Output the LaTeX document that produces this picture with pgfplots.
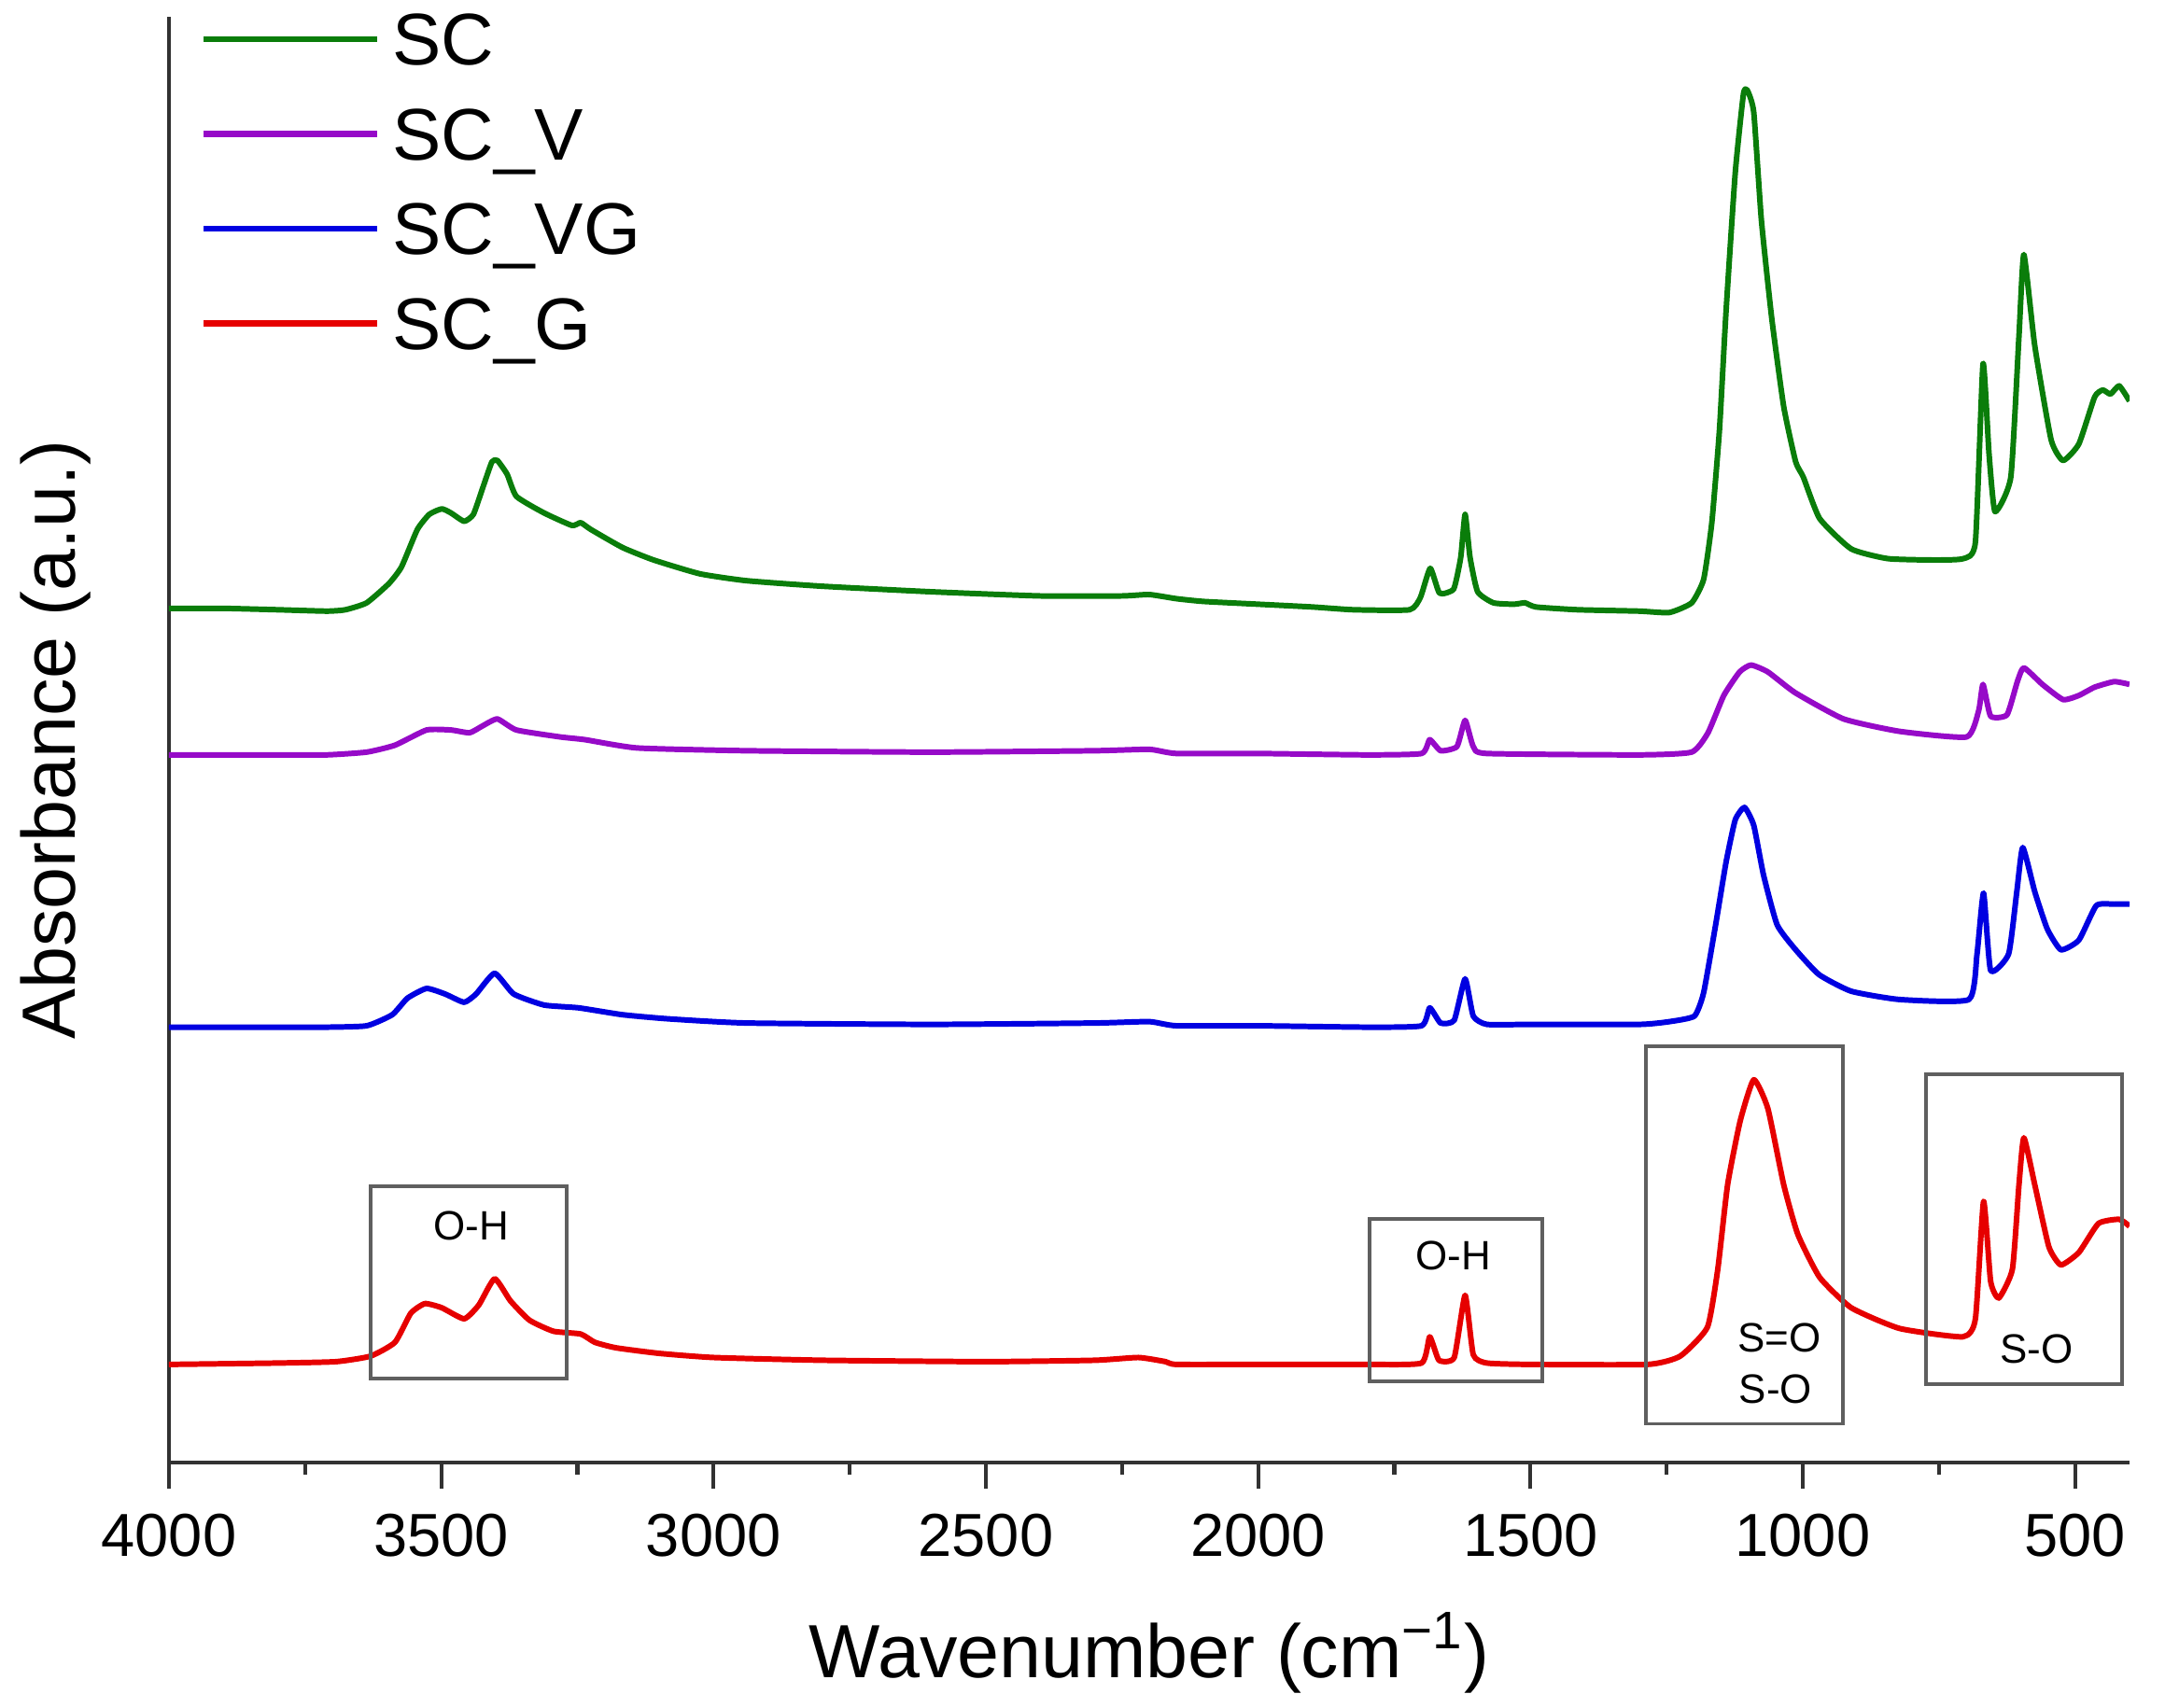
\documentclass[border=0pt]{standalone}
\usepackage{pgfplots}
\pgfplotsset{compat=1.18}
\usepackage{fontspec}
\setmainfont{Liberation Sans}
\definecolor{cgreen}{RGB}{10,125,10}
\definecolor{cpurple}{RGB}{150,10,200}
\definecolor{cblue}{RGB}{0,0,225}
\definecolor{cred}{RGB}{230,0,0}
\definecolor{boxgray}{RGB}{95,95,95}
\definecolor{axgray}{RGB}{50,50,50}
\begin{document}
\begin{tikzpicture}
\begin{axis}[
  at={(0,0)}, anchor=south west,
  scale only axis, width=21cm, height=15.49cm,
  x dir=reverse, xmin=400, xmax=4000, ymin=0, ymax=1046,
  axis x line*=bottom, axis y line*=left,
  axis line style={axgray, line width=1.4pt},
  xtick={4000,3500,3000,2500,2000,1500,1000,500},
  minor x tick num=1,
  ytick=\empty,
  tick align=outside,
  major tick length=0.28cm, minor tick length=0.13cm,
  tick style={axgray, line width=1.2pt},
  /pgf/number format/assume math mode=true,
  /pgf/number format/set thousands separator={},
  xticklabel style={font=\fontsize{18.5}{22}\selectfont, yshift=-0.15cm},
  xlabel={Wavenumber (cm\textsuperscript{−1})},
  xlabel style={font=\fontsize{23}{27}\selectfont, at={(axis description cs:0.5,-0.149)}, anchor=base},
  ylabel={Absorbance (a.u.)},
  ylabel style={font=\fontsize{23}{27}\selectfont, at={(axis description cs:-0.058,0.5)}, anchor=center},
  legend style={at={(axis description cs:0.0109,1.0116)}, anchor=north west, draw=none, fill=none,
    font=\fontsize{22.3}{26}\selectfont, row sep=0.275cm, column sep=0.06cm},
  legend cell align=left,
  legend image code/.code={\draw[#1, line width=1.8pt] (0cm,0.03cm) -- (1.86cm,0.03cm);},
  every axis plot/.append style={line width=1.7pt, line join=round, smooth, tension=0.3},
]
\addplot[cgreen] coordinates {
(4000,618) (3900,618) (3800,617) (3710,616) (3676,617) (3637,622) (3596,636) (3573,648) (3544,675) (3522,686) (3499,690) (3482,687) (3458,681) (3441,686) (3424,705) (3407,724) (3397,725) (3379,715) (3362,699) (3311,687) (3260,678) (3244,680) (3225,675) (3167,662) (3110,653) (3025,643) (2939,638) (2800,634) (2600,630) (2400,627) (2250,627) (2200,628) (2150,625) (2100,623) (2000,621) (1900,619) (1825,617) (1722,617) (1702,626) (1684,647) (1667,629) (1641,632) (1628,655) (1620,686) (1611,655) (1597,630) (1568,622) (1530,621) (1510,622) (1490,619) (1413,617) (1300,616) (1245,615) (1204,622) (1182,639) (1167,680) (1153,747) (1141,832) (1124,933) (1109,990) (1102,993) (1090,977) (1076,899) (1057,828) (1035,764) (1013,724) (999,713) (969,683) (911,661) (844,654) (760,653) (705,654) (683,666) (669,795) (658,730) (647,688) (618,713) (603,815) (594,874) (574,808) (544,740) (522,725) (493,737) (464,771) (449,776) (435,773) (419,779) (400,768)
};
\addlegendentry{SC}
\addplot[cpurple] coordinates {
(4000,512) (3800,512) (3710,512) (3637,514) (3585,519) (3527,530) (3482,530) (3448,528) (3424,533) (3397,538) (3362,530) (3282,525) (3236,523) (3140,517) (2939,515) (2600,514) (2300,515) (2200,516) (2150,513) (2000,513) (1800,512) (1700,513) (1685,523) (1665,515) (1635,518) (1620,537) (1605,518) (1580,513) (1300,512) (1204,514) (1174,528) (1145,555) (1116,572) (1095,577) (1064,572) (1014,557) (925,538) (822,529) (699,525) (677,544) (669,563) (655,540) (625,541) (606,565) (594,575) (560,563) (522,552) (493,555) (464,561) (428,565) (400,563)
};
\addlegendentry{SC\_V}
\addplot[cblue] coordinates {
(4000,315) (3800,315) (3710,315) (3637,316) (3590,324) (3562,336) (3527,343) (3493,339) (3458,333) (3436,339) (3402,354) (3367,339) (3311,331) (3248,329) (3167,324) (3082,321) (2939,318) (2600,317) (2300,318) (2200,319) (2150,316) (2000,316) (1800,315) (1700,316) (1685,329) (1665,318) (1640,320) (1620,350) (1605,323) (1580,317) (1500,317) (1300,317) (1245,319) (1199,323) (1182,340) (1160,389) (1141,434) (1124,465) (1107,474) (1090,461) (1072,425) (1047,389) (1013,371) (970,353) (911,341) (822,335) (695,335) (680,368) (668,412) (655,356) (622,368) (607,413) (596,445) (574,413) (551,386) (526,371) (493,378) (461,403) (429,404) (400,404)
};
\addlegendentry{SC\_VG}
\addplot[cred] coordinates {
(4000,71) (3800,72) (3693,73) (3630,77) (3585,87) (3556,108) (3530,115) (3499,112) (3458,104) (3431,114) (3402,133) (3373,117) (3338,103) (3294,95) (3244,93) (3218,87) (3179,83) (3100,79) (3000,76) (2800,74) (2500,73) (2300,74) (2220,76) (2170,73) (2150,71) (2000,71) (1800,71) (1700,72) (1685,91) (1668,74) (1640,76) (1620,121) (1605,78) (1580,72) (1500,71) (1285,71) (1225,77) (1175,98) (1156,140) (1138,201) (1115,247) (1090,277) (1064,256) (1035,201) (1009,165) (969,134) (911,112) (822,97) (706,91) (683,104) (668,189) (655,131) (640,119) (615,140) (603,201) (594,235) (574,201) (548,156) (526,143) (493,152) (457,173) (419,176) (400,171)
};
\addlegendentry{SC\_G}
\draw[boxgray, line width=1.1pt] (axis cs:3630,61) rectangle (axis cs:3270,200);
\draw[boxgray, line width=1.1pt] (axis cs:1795,59) rectangle (axis cs:1478,176);
\draw[boxgray, line width=1.1pt] (axis cs:1288,28) rectangle (axis cs:927,301);
\draw[boxgray, line width=1.1pt] (axis cs:774,57) rectangle (axis cs:414,281);
\node[font=\fontsize{12.5}{15}\selectfont] at (axis cs:3445,171) {O-H};
\node[font=\fontsize{12.5}{15}\selectfont] at (axis cs:1641,150) {O-H};
\node[font=\fontsize{12.5}{15}\selectfont] at (axis cs:1043,90) {S=O};
\node[font=\fontsize{12.5}{15}\selectfont] at (axis cs:1050,53) {S-O};
\node[font=\fontsize{12.5}{15}\selectfont] at (axis cs:571,82) {S-O};
\end{axis}
\pgfresetboundingbox
\path[use as bounding box] (-1.81cm,-2.62cm) rectangle (21.38cm,15.67cm);
\end{tikzpicture}
\end{document}
